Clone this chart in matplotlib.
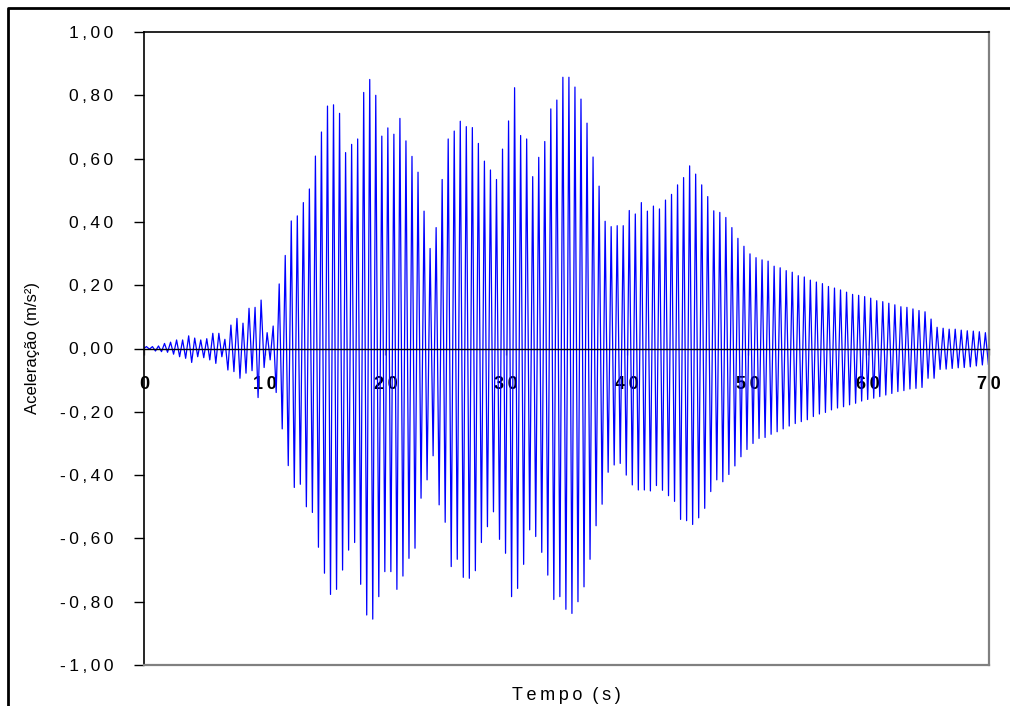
import numpy as np
import matplotlib
matplotlib.use("Agg")
import matplotlib.pyplot as plt
from matplotlib.lines import Line2D
from matplotlib.ticker import FixedLocator, FuncFormatter

# Acceleration record: one positive and one negative extreme per cycle
CYCLE_PERIOD = 0.5      # s
FIRST_PEAK_TIME = 0.2   # s

peak_acc = [
    0.006, 0.006, 0.008, 0.016, 0.020, 0.027, 0.027, 0.040, 0.033, 0.027,
    0.031, 0.048, 0.048, 0.029, 0.074, 0.095, 0.080, 0.127, 0.130, 0.153,
    0.050, 0.071, 0.204, 0.294, 0.403, 0.419, 0.461, 0.504, 0.608, 0.684,
    0.766, 0.770, 0.743, 0.619, 0.645, 0.662, 0.809, 0.850, 0.800, 0.671,
    0.697, 0.677, 0.727, 0.656, 0.607, 0.557, 0.434, 0.316, 0.382, 0.534,
    0.662, 0.687, 0.718, 0.701, 0.698, 0.648, 0.592, 0.564, 0.534, 0.630,
    0.719, 0.824, 0.673, 0.662, 0.543, 0.604, 0.654, 0.757, 0.785, 0.857,
    0.857, 0.826, 0.788, 0.712, 0.605, 0.513, 0.402, 0.385, 0.388, 0.388,
    0.436, 0.425, 0.461, 0.434, 0.450, 0.441, 0.469, 0.487, 0.517, 0.540,
    0.577, 0.551, 0.517, 0.480, 0.435, 0.430, 0.414, 0.382, 0.348, 0.323,
    0.299, 0.287, 0.280, 0.276, 0.260, 0.255, 0.246, 0.241, 0.230, 0.226,
    0.216, 0.210, 0.205, 0.196, 0.191, 0.185, 0.178, 0.171, 0.168, 0.164,
    0.159, 0.151, 0.148, 0.143, 0.138, 0.132, 0.130, 0.125, 0.120, 0.116,
    0.093, 0.067, 0.064, 0.061, 0.061, 0.058, 0.056, 0.055, 0.053, 0.050,
]

trough_acc = [
    -0.002, -0.008, -0.010, -0.012, -0.018, -0.026, -0.031, -0.044, -0.026, -0.029,
    -0.036, -0.047, -0.026, -0.068, -0.073, -0.094, -0.078, -0.070, -0.155, -0.060,
    -0.036, -0.139, -0.254, -0.370, -0.439, -0.429, -0.500, -0.518, -0.628, -0.710,
    -0.777, -0.761, -0.700, -0.637, -0.613, -0.745, -0.842, -0.855, -0.784, -0.705,
    -0.705, -0.761, -0.719, -0.663, -0.631, -0.473, -0.415, -0.339, -0.494, -0.549,
    -0.689, -0.666, -0.723, -0.726, -0.702, -0.613, -0.563, -0.516, -0.603, -0.647,
    -0.784, -0.758, -0.682, -0.573, -0.594, -0.644, -0.716, -0.793, -0.784, -0.824,
    -0.837, -0.800, -0.753, -0.666, -0.560, -0.492, -0.391, -0.368, -0.363, -0.400,
    -0.431, -0.447, -0.447, -0.450, -0.433, -0.448, -0.465, -0.483, -0.540, -0.544,
    -0.556, -0.535, -0.505, -0.452, -0.415, -0.421, -0.398, -0.371, -0.342, -0.319,
    -0.300, -0.284, -0.281, -0.271, -0.263, -0.254, -0.245, -0.237, -0.231, -0.225,
    -0.215, -0.207, -0.202, -0.194, -0.188, -0.184, -0.178, -0.173, -0.166, -0.161,
    -0.157, -0.152, -0.147, -0.142, -0.136, -0.133, -0.128, -0.126, -0.123, -0.094,
    -0.094, -0.066, -0.065, -0.063, -0.061, -0.060, -0.058, -0.055, -0.052, -0.050,
]

x_ticks = [0, 10, 20, 30, 40, 50, 60, 70]
y_ticks = [-1.0, -0.8, -0.6, -0.4, -0.2, 0.0, 0.2, 0.4, 0.6, 0.8, 1.0]

x_label = "Tempo (s)"
y_label = "Aceleração (m/s²)"

# ---------------------------------------------------------------------------
THIN = "\u2009"
FONTS = ["Liberation Sans", "DejaVu Sans"]
plt.rcParams["font.family"] = FONTS


def spaced(text):
    return THIN.join(text)


def decimal_comma(v, _pos=None):
    return spaced(f"{v:.2f}".replace(".", ","))


# Interleave peaks and troughs into one time history starting at rest
peak_t = FIRST_PEAK_TIME + CYCLE_PERIOD * np.arange(len(peak_acc))
trough_t = peak_t + CYCLE_PERIOD / 2
t = np.empty(2 * len(peak_acc) + 1)
a = np.empty_like(t)
t[0], a[0] = 0.0, 0.0
t[1::2], a[1::2] = peak_t, peak_acc
t[2::2], a[2::2] = trough_t, trough_acc

W, H = 1010, 706
fig = plt.figure(figsize=(W / 100, H / 100), dpi=100)
ax = fig.add_axes([144 / W, (H - 665) / H, (989 - 144) / W, (665 - 32) / H])

ax.plot(t, a, color="#0000FF", lw=0.9, zorder=2)

ax.set_xlim(x_ticks[0], x_ticks[-1])
ax.set_ylim(y_ticks[0], y_ticks[-1])

ax.xaxis.set_major_locator(FixedLocator(x_ticks))
ax.xaxis.set_major_formatter(FuncFormatter(lambda v, p: spaced(f"{v:.0f}")))
ax.yaxis.set_major_locator(FixedLocator(y_ticks))
ax.yaxis.set_major_formatter(FuncFormatter(decimal_comma))

# Horizontal axis crosses at zero acceleration
ax.spines["bottom"].set_position(("data", 0))
ax.spines["bottom"].set_color("black")
ax.spines["bottom"].set_linewidth(1.0)
ax.spines["left"].set_color("black")
ax.spines["left"].set_linewidth(1.2)
ax.spines["top"].set_color("black")
ax.spines["top"].set_linewidth(1.2)
ax.spines["right"].set_color("#808080")
ax.spines["right"].set_linewidth(1.6)
ax.plot([0, 1], [0, 0], transform=ax.transAxes, color="#808080",
        lw=1.6, clip_on=False, zorder=3)

ax.tick_params(axis="y", direction="out", length=7, width=1.0,
               labelsize=12.5, pad=15, colors="black")
ax.tick_params(axis="x", direction="out", length=4, width=1.0,
               color="#808080", labelsize=13, pad=16)
for lbl in ax.get_xticklabels():
    lbl.set_fontweight("bold")

fig.text(33 / W, 1 - 348 / H, y_label, rotation=90, ha="center",
         va="center", fontsize=12)
fig.text(566 / W, 1 - 695 / H, spaced(x_label).replace(THIN + " " + THIN, "  "),
         ha="center", va="center", fontsize=13)

# Outer chart border
fig.add_artist(Line2D([8 / W, 8 / W, 1.0], [0.0, 1 - 8 / H, 1 - 8 / H],
                      transform=fig.transFigure, color="black", lw=2.0))

fig.savefig("out.png", dpi=100)
